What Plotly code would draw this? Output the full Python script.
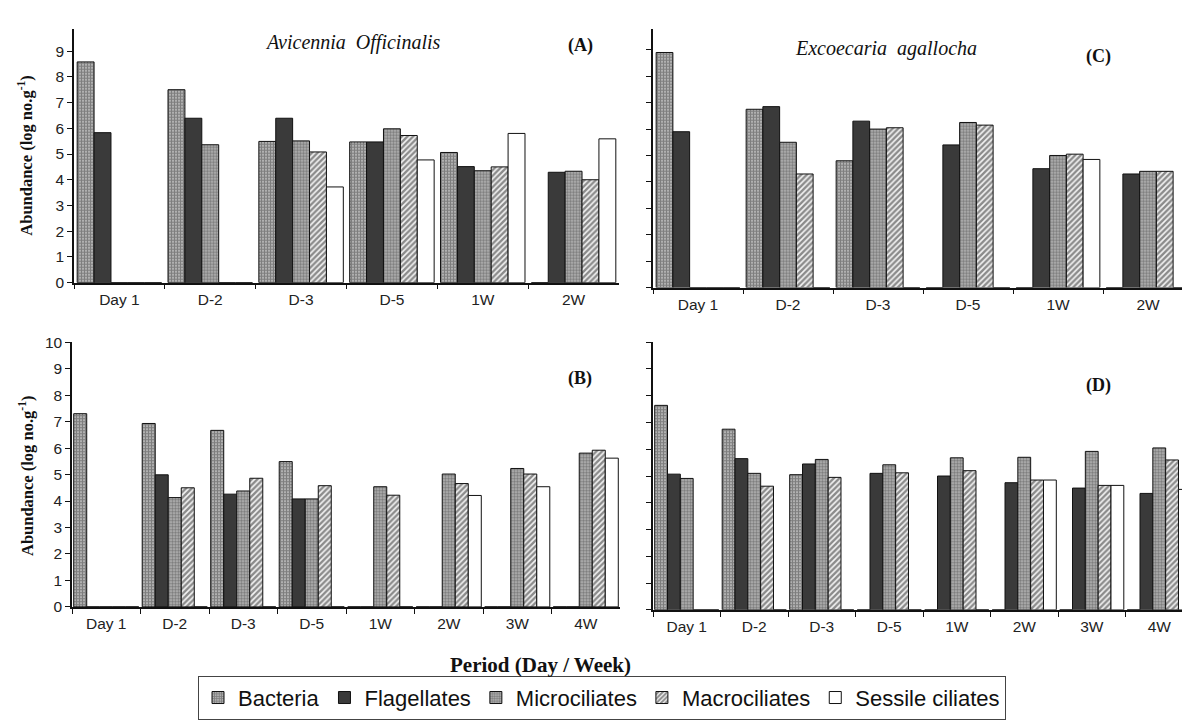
import plotly.graph_objects as go

# ---------------- data ----------------
series = ["Bacteria", "Flagellates", "Microciliates", "Macrociliates", "Sessile ciliates"]

cats_top = ["Day 1", "D-2", "D-3", "D-5", "1W", "2W"]
cats_bot = ["Day 1", "D-2", "D-3", "D-5", "1W", "2W", "3W", "4W"]

# Panel A: Avicennia Officinalis
A_bacteria = [8.58, 7.50, 5.49, 5.47, 5.06, 0]
A_flagellates = [5.83, 6.39, 6.39, 5.47, 4.51, 4.29]
A_micro = [0, 5.36, 5.51, 5.98, 4.35, 4.33]
A_macro = [0, 0, 5.08, 5.72, 4.50, 4.00]
A_sessile = [0, 0, 3.72, 4.77, 5.80, 5.59]

# Panel C: Excoecaria agallocha
C_bacteria = [8.90, 6.75, 4.80, 0, 0, 0]
C_flagellates = [5.90, 6.85, 6.30, 5.40, 4.50, 4.30]
C_micro = [0, 5.50, 6.00, 6.25, 5.00, 4.40]
C_macro = [0, 4.30, 6.05, 6.15, 5.05, 4.40]
C_sessile = [0, 0, 0, 0, 4.85, 0]

# Panel B
B_bacteria = [7.30, 6.93, 6.67, 5.49, 0, 0, 0, 0]
B_flagellates = [0, 4.99, 4.26, 4.08, 0, 0, 0, 0]
B_micro = [0, 4.13, 4.38, 4.08, 4.54, 5.02, 5.23, 5.81]
B_macro = [0, 4.50, 4.86, 4.58, 4.22, 4.66, 5.02, 5.92]
B_sessile = [0, 0, 0, 0, 0, 4.21, 4.54, 5.62]

# Panel D
D_bacteria = [7.64, 6.75, 5.05, 0, 0, 0, 0, 0]
D_flagellates = [5.07, 5.65, 5.45, 5.10, 5.00, 4.75, 4.55, 4.35]
D_micro = [4.91, 5.10, 5.62, 5.42, 5.68, 5.70, 5.92, 6.05]
D_macro = [0, 4.62, 4.95, 5.12, 5.20, 4.85, 4.65, 5.60]
D_sessile = [0, 0, 0, 0, 0, 4.85, 4.65, 4.50]

y_ticks_top = [0, 1, 2, 3, 4, 5, 6, 7, 8, 9]
y_ticks_bot = [0, 1, 2, 3, 4, 5, 6, 7, 8, 9, 10]

# ---------------- styles ----------------
styles = [
    dict(color="#8a8a8a", pattern=dict(shape="+", fgcolor="#2e2e2e", bgcolor="#cfcfcf", size=3, solidity=0.7)),
    dict(color="#3a3a3a"),
    dict(color="#a8a8a8", pattern=dict(shape=".", fgcolor="#3e3e3e", bgcolor="#b8b8b8", size=3, solidity=0.55)),
    dict(color="#ffffff", pattern=dict(shape="/", fgcolor="#222222", bgcolor="#f4f4f4", size=4, solidity=0.6)),
    dict(color="#ffffff"),
]

fig = go.Figure()

panels = [
    ("x", "y", cats_top, [A_bacteria, A_flagellates, A_micro, A_macro, A_sessile], 0.186, True),
    ("x2", "y2", cats_top, [C_bacteria, C_flagellates, C_micro, C_macro, C_sessile], 0.186, False),
    ("x3", "y3", cats_bot, [B_bacteria, B_flagellates, B_micro, B_macro, B_sessile], 0.19, False),
    ("x4", "y4", cats_bot, [D_bacteria, D_flagellates, D_micro, D_macro, D_sessile], 0.19, False),
]

for xa, ya, cats, vals, w, showleg in panels:
    start = -2.5 * w
    for i, (name, v) in enumerate(zip(series, vals)):
        st = styles[i]
        marker = dict(color=st["color"], line=dict(color="#111111", width=1))
        if "pattern" in st:
            marker["pattern"] = st["pattern"]
        fig.add_trace(go.Bar(
            x=cats, y=v, name=name, xaxis=xa, yaxis=ya,
            width=w, offset=start + i * w,
            marker=marker, legendgroup=name, showlegend=showleg,
        ))

W, H = 1190, 728
def px(x):
    return x / W
def py(y):
    return 1 - y / H

tickfont = dict(family="Liberation Sans, Arial", size=15.5, color="#222222")
axis_common = dict(showline=True, linecolor="#111111", linewidth=1.5, ticks="outside",
                   tickcolor="#111111", ticklen=5, showgrid=False, zeroline=False,
                   tickfont=tickfont)

xa_common = dict(axis_common, type="category", tickson="boundaries", ticklabelstandoff=2)

fig.update_layout(
    width=W, height=H, margin=dict(l=0, r=0, t=0, b=0),
    paper_bgcolor="white", plot_bgcolor="white",
    barmode="overlay",
    xaxis=dict(xa_common, domain=[px(66), px(611)], anchor="y", range=[-0.5, 5.5]),
    yaxis=dict(axis_common, domain=[py(272), py(12)], anchor="x", range=[0, 9.87], tickvals=y_ticks_top),
    xaxis2=dict(xa_common, domain=[px(645), px(1185)], anchor="y2", range=[-0.5, 5.5]),
    yaxis2=dict(axis_common, domain=[py(277), py(12)], anchor="x2", range=[0, 9.8], tickvals=y_ticks_top,
                showticklabels=False),
    xaxis3=dict(xa_common, domain=[px(64), px(612)], anchor="y3", range=[-0.5, 7.5]),
    yaxis3=dict(axis_common, domain=[py(604), py(333)], anchor="x3", range=[0, 10], tickvals=y_ticks_bot),
    xaxis4=dict(xa_common, domain=[px(645), px(1185)], anchor="y4", range=[-0.5, 7.5]),
    yaxis4=dict(axis_common, domain=[py(607), py(333)], anchor="x4", range=[0, 10], tickvals=y_ticks_bot,
                showticklabels=False),
    legend=dict(orientation="h", x=px(594), xanchor="center", y=py(697), yanchor="middle",
                bordercolor="#444444", borderwidth=1, bgcolor="white",
                font=dict(family="Liberation Sans, Arial", size=22, color="#111111"),
                itemwidth=30, tracegroupgap=0),
)

serif = "Liberation Serif, Times New Roman, serif"
ann = [
    dict(text="<i>Avicennia  Officinalis</i>", x=px(345), y=py(26), size=20),
    dict(text="<b>(A)</b>", x=px(572), y=py(29), size=18),
    dict(text="<i>Excoecaria  agallocha</i>", x=px(878), y=py(32), size=20),
    dict(text="<b>(C)</b>", x=px(1090), y=py(40), size=18),
    dict(text="<b>(B)</b>", x=px(572), y=py(370), size=18),
    dict(text="<b>(D)</b>", x=px(1090), y=py(377), size=18),
    dict(text="<b>Period (Day / Week)</b>", x=px(532), y=py(664), size=21),
]
for a in ann:
    fig.add_annotation(text=a["text"], x=a["x"], y=a["y"], xref="paper", yref="paper",
                       showarrow=False, xanchor="center", yanchor="middle",
                       font=dict(family=serif, size=a["size"], color="#111111"))

for yc in [142, 470]:
    fig.add_annotation(text="<b>Abundance (log no.g<sup>-1</sup>)</b>", x=px(18), y=py(yc),
                       xref="paper", yref="paper", showarrow=False, textangle=-90,
                       xanchor="center", yanchor="middle",
                       font=dict(family=serif, size=16.5, color="#111111"))

fig.write_html("out.html")
